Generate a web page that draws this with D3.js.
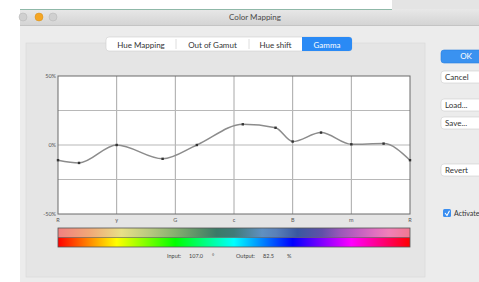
<!DOCTYPE html>
<html>
<head>
<meta charset="utf-8">
<script src="https://cdn.jsdelivr.net/npm/d3@7"></script>
<style>
  body { margin: 0; background: #fff; }
  svg text { font-family: "Lato", "Liberation Sans", sans-serif; }
</style>
</head>
<body>
<script>
// hue (degrees) of each control point and the gamma output (%)
var hueIn = [0, 21.5, 60, 107, 142, 189, 222.5, 240, 269, 300, 333, 360];
var gammaOut = [-11, -13, 0, -10, 0, 15, 12.5, 2.5, 9, 0.5, 1, -11];

var hueLabels = ['R', 'y', 'G', 'c', 'B', 'm', 'R'];
var hueTicks = [0, 60, 120, 180, 240, 300, 360];
var yTicks = [-50, -25, 0, 25, 50];
var yLabels = {'50': '50%', '0': '0%', '-50': '-50%'};

var tabNames = ['Hue Mapping', 'Out of Gamut', 'Hue shift', 'Gamma'];
var buttonNames = ['OK', 'Cancel', 'Load...', 'Save...', 'Revert'];

// mapped (output) colours along the hue axis for the top bar
var mappedHue = [0, 9, 18, 26, 33, 40, 45, 50, 58, 62, 68, 75, 80, 85, 90, 94, 100];
var mappedColor = ['#f08080', '#f0a878', '#e8e088', '#b8c880', '#88b070', '#5a9068', '#3a7a68', '#407a78',
  '#6090c0', '#5a80b8', '#3a58a0', '#6050a8', '#9858b8', '#c060c0', '#e070c0', '#f080b8', '#f07890'];

var W = 479, H = 282;
var svg = d3.select('body').append('svg').attr('width', W).attr('height', H);
var defs = svg.append('defs');

// window chrome
svg.append('rect').attr('x', 0).attr('y', 0).attr('width', W).attr('height', H).attr('fill', '#fff');
svg.append('rect').attr('x', 392).attr('y', 0).attr('width', W - 392).attr('height', 9).attr('fill', '#e4e4e4');
svg.append('rect').attr('x', 20).attr('y', 9).attr('width', W - 20).attr('height', H - 9).attr('fill', '#ececec');

var tbGrad = defs.append('linearGradient').attr('id', 'tb').attr('x1', 0).attr('x2', 0).attr('y1', 0).attr('y2', 1);
tbGrad.append('stop').attr('offset', '0%').attr('stop-color', '#e8e8e8');
tbGrad.append('stop').attr('offset', '100%').attr('stop-color', '#d4d4d4');
svg.append('rect').attr('x', 20).attr('y', 9).attr('width', W - 20).attr('height', 16).attr('fill', 'url(#tb)');
svg.append('line').attr('x1', 20).attr('x2', 392).attr('y1', 9.5).attr('y2', 9.5).attr('stroke', '#8fb8a8').attr('stroke-width', 1);
svg.append('line').attr('x1', 20).attr('x2', W).attr('y1', 25.5).attr('y2', 25.5).attr('stroke', '#c4c4c4');

svg.selectAll('.light').data([['#d0d0d0', 23], ['#f5a623', 39], ['#d0d0d0', 53]]).enter()
  .append('circle').attr('cx', function(d) { return d[1]; }).attr('cy', 17).attr('r', 4)
  .attr('fill', function(d) { return d[0]; })
  .attr('stroke', function(d) { return d3.color(d[0]).darker(0.4); }).attr('stroke-width', 0.5);

svg.append('text').attr('x', 255).attr('y', 20).attr('text-anchor', 'middle')
  .attr('font-size', '8px').attr('fill', '#4a4a4a').text('Color Mapping');

// group box
svg.append('rect').attr('x', 26).attr('y', 43).attr('width', 399).attr('height', 234)
  .attr('fill', '#e5e5e5').attr('stroke', '#d8d8d8').attr('stroke-width', 0.6);

// segmented tabs
var tabEdges = [106, 176, 249, 302, 352];
svg.append('rect').attr('x', 106).attr('y', 37).attr('width', 246).attr('height', 14).attr('rx', 3)
  .attr('fill', '#fff').attr('stroke', '#cfcfcf').attr('stroke-width', 0.6);
svg.append('rect').attr('x', 302).attr('y', 37).attr('width', 50).attr('height', 14).attr('rx', 3)
  .attr('fill', '#2a8af5');
svg.append('rect').attr('x', 302).attr('y', 37).attr('width', 8).attr('height', 14).attr('fill', '#2a8af5');
svg.selectAll('.tabdiv').data([176, 249]).enter().append('line')
  .attr('x1', function(d) { return d; }).attr('x2', function(d) { return d; })
  .attr('y1', 39).attr('y2', 49).attr('stroke', '#dedede');
svg.selectAll('.tab').data(tabNames).enter().append('text')
  .attr('x', function(d, i) { return (tabEdges[i] + tabEdges[i + 1]) / 2; })
  .attr('y', 47.5).attr('text-anchor', 'middle').attr('font-size', '8px')
  .attr('fill', function(d, i) { return i == 3 ? '#fff' : '#333'; })
  .text(function(d) { return d; });

// buttons on the right
var buttonY = [50, 71, 99, 117, 164];
svg.selectAll('.btn').data(buttonNames).enter().append('rect')
  .attr('x', 441).attr('y', function(d, i) { return buttonY[i]; })
  .attr('width', 48).attr('height', function(d, i) { return i == 0 ? 13 : 12; }).attr('rx', 3)
  .attr('fill', function(d, i) { return i == 0 ? '#3a92f0' : '#fff'; })
  .attr('stroke', function(d, i) { return i == 0 ? '#2a80e0' : '#cfcfcf'; }).attr('stroke-width', 0.6);
svg.selectAll('.btnt').data(buttonNames).enter().append('text')
  .attr('x', function(d, i) { return i == 0 ? 466 : 445; })
  .attr('y', function(d, i) { return buttonY[i] + 9; })
  .attr('text-anchor', function(d, i) { return i == 0 ? 'middle' : 'start'; })
  .attr('font-size', '8px').attr('fill', function(d, i) { return i == 0 ? '#fff' : '#333'; })
  .text(function(d) { return d; });

svg.append('rect').attr('x', 443).attr('y', 209).attr('width', 8).attr('height', 8).attr('rx', 1.5).attr('fill', '#3a8ef0');
svg.append('path').attr('d', 'M445,213 L447,215.5 L449.5,210.8').attr('fill', 'none').attr('stroke', '#fff').attr('stroke-width', 1.1);
svg.append('text').attr('x', 454).attr('y', 216).attr('font-size', '7px').attr('fill', '#333').text('Activate');

// plot
var x = d3.scaleLinear().domain([0, 360]).range([58, 410]);
var y = d3.scaleLinear().domain([-50, 50]).range([214, 76]);

svg.append('rect').attr('x', 58).attr('y', 76).attr('width', 352).attr('height', 138).attr('fill', '#fff');

svg.selectAll('.vgrid').data(hueTicks.slice(1, -1)).enter().append('line')
  .attr('x1', function(d) { return x(d); }).attr('x2', function(d) { return x(d); })
  .attr('y1', 76).attr('y2', 214).attr('stroke', '#a8a8a8').attr('stroke-width', 1);
svg.selectAll('.hgrid').data(yTicks.slice(1, -1)).enter().append('line')
  .attr('x1', 58).attr('x2', 410)
  .attr('y1', function(d) { return y(d); }).attr('y2', function(d) { return y(d); })
  .attr('stroke', '#b8b8b8').attr('stroke-width', 1.2);
svg.append('rect').attr('x', 58).attr('y', 76).attr('width', 352).attr('height', 138)
  .attr('fill', 'none').attr('stroke', '#6a6a6a').attr('stroke-width', 1);

svg.selectAll('.ylab').data(yTicks.filter(function(d) { return yLabels[d]; })).enter().append('text')
  .attr('x', 56).attr('y', function(d) { return y(d) + 2; }).attr('text-anchor', 'end')
  .attr('font-size', '5.5px').attr('fill', '#555').text(function(d) { return yLabels[d]; });
svg.selectAll('.xlab').data(hueTicks).enter().append('text')
  .attr('x', function(d) { return x(d); }).attr('y', 222).attr('text-anchor', 'middle')
  .attr('font-size', '5.5px').attr('fill', '#555').text(function(d, i) { return hueLabels[i]; });

var pts = hueIn.map(function(h, i) { return [h, gammaOut[i]]; });
var line = d3.line().x(function(d) { return x(d[0]); }).y(function(d) { return y(d[1]); })
  .curve(d3.curveMonotoneX);
svg.append('path').datum(pts).attr('d', line).attr('fill', 'none')
  .attr('stroke', '#8c8c8c').attr('stroke-width', 1.5);
svg.selectAll('.dot').data(pts).enter().append('rect')
  .attr('x', function(d) { return x(d[0]) - 1.2; }).attr('y', function(d) { return y(d[1]) - 1.2; })
  .attr('width', 2.4).attr('height', 2.4).attr('fill', '#333');

// colour bars
var gTop = defs.append('linearGradient').attr('id', 'gtop');
gTop.selectAll('stop').data(mappedHue).enter().append('stop')
  .attr('offset', function(d) { return d + '%'; })
  .attr('stop-color', function(d, i) { return mappedColor[i]; });
var gBot = defs.append('linearGradient').attr('id', 'gbot');
gBot.selectAll('stop').data(d3.range(0, 361, 30)).enter().append('stop')
  .attr('offset', function(d) { return (d / 360 * 100) + '%'; })
  .attr('stop-color', function(d) { return d3.hsl(d % 360, 1, 0.5); });

svg.append('rect').attr('x', 58).attr('y', 228).attr('width', 352).attr('height', 9.5).attr('fill', 'url(#gtop)');
svg.append('rect').attr('x', 58).attr('y', 237.5).attr('width', 352).attr('height', 9.5).attr('fill', 'url(#gbot)');
svg.append('rect').attr('x', 58).attr('y', 228).attr('width', 352).attr('height', 19)
  .attr('fill', 'none').attr('stroke', '#555').attr('stroke-width', 0.8);
svg.append('line').attr('x1', 58).attr('x2', 410).attr('y1', 237.5).attr('y2', 237.5).attr('stroke', '#555').attr('stroke-width', 0.6);

// input / output readout
var readout = [['Input:', 167], ['107.0', 189], ['\u00b0', 212], ['Output:', 236], ['82.5', 263], ['%', 287]];
svg.selectAll('.ro').data(readout).enter().append('text')
  .attr('x', function(d) { return d[1]; }).attr('y', 258)
  .attr('font-size', '5.5px').attr('fill', '#444').text(function(d) { return d[0]; });
</script>
</body>
</html>
